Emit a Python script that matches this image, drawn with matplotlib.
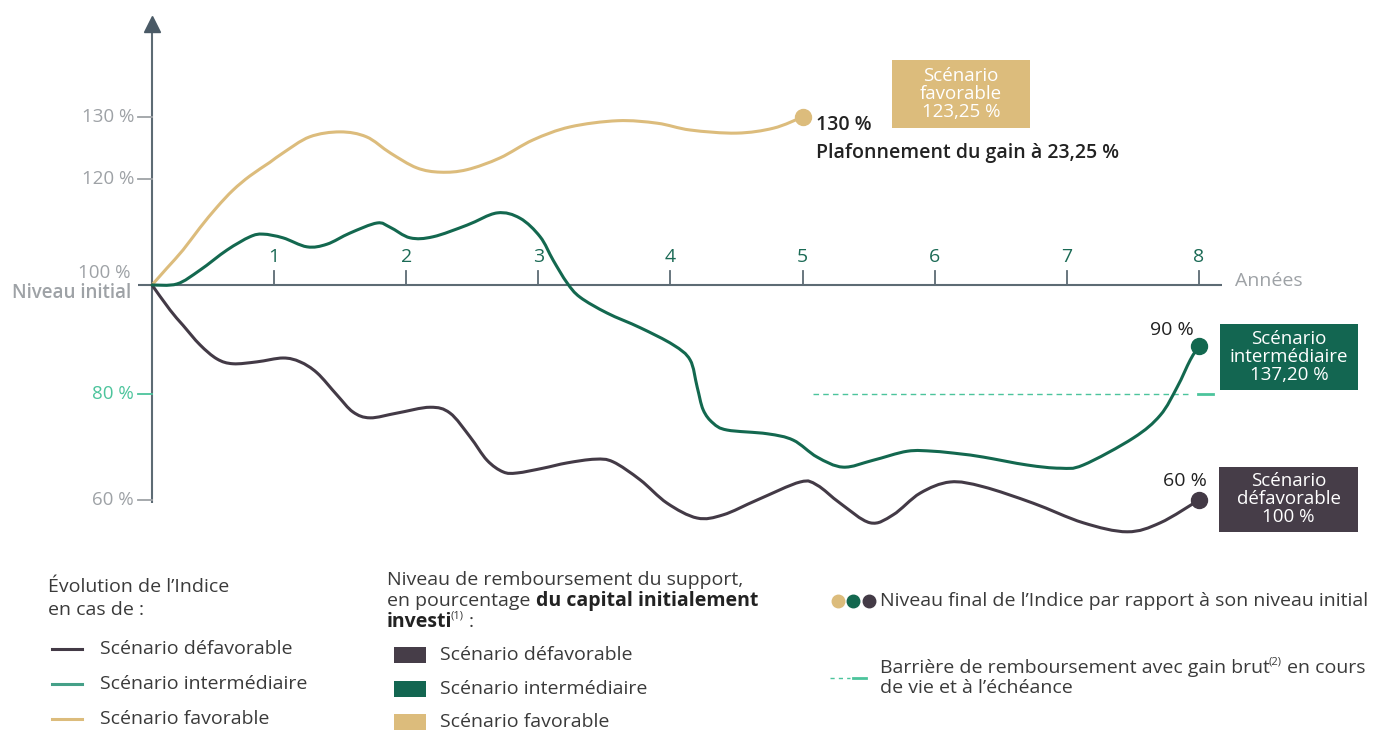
import numpy as np
import matplotlib
matplotlib.use("Agg")
import matplotlib.pyplot as plt
from matplotlib.patches import Rectangle, PathPatch
from matplotlib.lines import Line2D
from matplotlib.path import Path

# ---------------- data ----------------
years_fav = [0, 0.123, 0.254, 0.393, 0.533, 0.664, 0.803, 0.967, 1.068, 1.27, 1.50, 1.70,
             1.88, 2.08, 2.26, 2.46, 2.71, 2.96, 3.24, 3.60, 3.90, 4.15, 4.50, 4.78, 5.0]
val_fav = [100, 103.2, 106.6, 110.8, 114.7, 117.9, 120.5, 122.7, 124.2, 126.8, 127.6, 126.8,
           124.2, 121.8, 121.1, 121.5, 123.4, 126.3, 128.4, 129.4, 129.0, 127.9, 127.4,
           128.2, 130]

years_int = [0, 0.205, 0.393, 0.615, 0.803, 0.910, 1.068, 1.250, 1.401, 1.575, 1.780,
             1.878, 2.030, 2.204, 2.461, 2.688, 2.862, 3.014, 3.112, 3.218, 3.316,
             3.521, 3.771, 4.020, 4.149, 4.202, 4.248, 4.323, 4.429, 4.732,
             4.929, 5.110, 5.307, 5.534, 5.792, 5.989, 6.193, 6.367, 6.700, 6.950,
             7.124, 7.503, 7.707, 7.836, 7.934, 8.0]
val_int = [100, 100.2, 102.8, 106.6, 109.1, 109.6, 108.9, 107.2, 107.7, 109.8, 111.7,
           110.9, 108.9, 109.1, 111.3, 113.6, 112.6, 109.1, 104.7, 100.4, 98.0,
           95.4, 93.0, 90.2, 87.1, 81.5, 77.0, 74.5, 73.2, 72.5,
           71.3, 68.1, 66.2, 67.5, 69.2, 69.2, 68.7, 68.1, 66.6, 66.0,
           66.6, 71.7, 76.0, 81.5, 87.1, 90]

years_def = [0, 0.148, 0.254, 0.393, 0.533, 0.664, 0.861, 1.068, 1.197, 1.326, 1.477,
             1.598, 1.727, 1.931, 2.181, 2.332, 2.484, 2.612, 2.734, 2.840, 3.036,
             3.218, 3.430, 3.566, 3.771, 3.975, 4.202, 4.399, 4.656, 4.982, 5.110,
             5.284, 5.511, 5.685, 5.890, 6.117, 6.367, 6.745, 7.124, 7.457, 7.707, 8.0]
val_def = [100, 95.9, 93.4, 90.2, 87.3, 86.3, 86.7, 87.5, 86.7, 84.4, 79.8,
           76.6, 75.5, 76.4, 77.5, 76.4, 71.9, 67.5, 65.3, 65.1, 66.0,
           67.0, 67.7, 67.2, 63.8, 59.4, 56.6, 57.2, 60.0, 63.4, 62.8,
           59.4, 55.7, 57.2, 61.3, 63.4, 62.5, 59.4, 55.7, 54.0, 55.7, 60]

x_ticks = [1, 2, 3, 4, 5, 6, 7, 8]
y_ticks = [60, 80, 120, 130]
y_tick_labels = ["60 %", "80 %", "120 %", "130 %"]
barrier_level = 80
barrier_start, barrier_end = 5.08, 7.93

final_labels = ["130 %", "90 %", "60 %"]
box_texts = ["Scénario\nfavorable\n123,25 %",
             "Scénario\nintermédiaire\n137,20 %",
             "Scénario\ndéfavorable\n100 %"]
legend_names = ["Scénario défavorable", "Scénario intermédiaire", "Scénario favorable"]

# ---------------- style ----------------
GOLD = "#dcbc7c"
GREEN = "#13684f"
DARK = "#433a46"
TEAL = "#4cc49c"
AXIS = "#5d6b74"
GREY = "#9ea2a6"
TXT = "#3a3a3a"
LEG_GREEN = "#45a088"
FS = 14
plt.rcParams["font.family"] = ["Open Sans", "DejaVu Sans"]

W, H = 1378, 734
fig = plt.figure(figsize=(W / 100, H / 100), dpi=100)
fig.patch.set_facecolor("white")
ax = fig.add_axes([0, 0, 1, 1])

# piecewise-linear scales of the schematic chart
X_Y = [-5, 0, 1, 8, 12]
X_P = [152 - 5 * 122, 152, 274, 1199, 1199 + 4 * 132.1]
Y_V = [0, 60, 80, 90, 100, 120, 130, 200]
Y_P = [234 - 60 * 5.3, 234, 340, 388, 449, 555, 617, 617 + 70 * 6.2]

fx = lambda v: np.interp(v, X_Y, X_P)
ifx = lambda p: np.interp(p, X_P, X_Y)
fy = lambda v: np.interp(v, Y_V, Y_P)
ify = lambda p: np.interp(p, Y_P, Y_V)
ax.set_xscale("function", functions=(fx, ifx))
ax.set_yscale("function", functions=(fy, ify))
ax.set_xlim(float(ifx(0)), float(ifx(W)))
ax.set_ylim(float(ify(0)), float(ify(H)))
ax.axis("off")


def px2x(p):
    return float(ifx(p))


def py2y(p):
    return float(ify(H - p))


def T(x, y, s, **kw):
    kw.setdefault("va", "center")
    kw.setdefault("ha", "left")
    kw.setdefault("fontsize", FS)
    return fig.text(x / W, 1 - y / H, s, **kw)


def smooth_line(xs, ys, color, z):
    """Draw a smooth (Catmull-Rom style) curve through the read points."""
    sx = fx(np.asarray(xs, float))
    sy = fy(np.asarray(ys, float))
    P = np.column_stack([sx, sy])
    n = len(P)
    verts = [P[0]]
    codes = [Path.MOVETO]
    for i in range(n - 1):
        p0 = P[max(i - 1, 0)]
        p1 = P[i]
        p2 = P[i + 1]
        p3 = P[min(i + 2, n - 1)]
        c1 = p1 + (p2 - p0) / 6.0
        c2 = p2 - (p3 - p1) / 6.0
        verts += [c1, c2, p2]
        codes += [Path.CURVE4] * 3
    V = np.array(verts)
    V = np.column_stack([ifx(V[:, 0]), ify(V[:, 1])])
    ax.add_patch(PathPatch(Path(V, codes), facecolor="none", edgecolor=color, lw=2.2,
                           capstyle="round", joinstyle="round", zorder=z))


# axes lines
ax.plot([px2x(138), px2x(1222)], [100, 100], color=AXIS, lw=1.5, solid_capstyle="butt", zorder=2)
ax.plot([0, 0], [py2y(503), py2y(30)], color=AXIS, lw=1.5, solid_capstyle="butt", zorder=2)
ax.plot([0], [py2y(24)], marker="^", ms=11, color="#4a5a66", zorder=3)

for t in x_ticks:
    ax.plot([t, t], [100, py2y(271)], color=AXIS, lw=1.3, zorder=2)
    ax.text(t, py2y(257), str(t), ha="center", va="center", fontsize=14, color="#1b6a55")
for v, lab in zip(y_ticks, y_tick_labels):
    c = TEAL if v == barrier_level else GREY
    ax.plot([px2x(138), 0], [v, v], color=c, lw=1.3, zorder=2)
    ax.text(px2x(134), v, lab, ha="right", va="center", fontsize=13.5, color=c)
ax.text(px2x(131), py2y(273), "100 %", ha="right", va="center", fontsize=13.5, color=GREY)
ax.text(px2x(131), py2y(293), "Niveau initial", ha="right", va="center", fontsize=13.5,
        color=GREY, fontweight="semibold")
ax.text(px2x(1235), py2y(281), "Années", ha="left", va="center", fontsize=14, color=GREY)

# barrier
ax.plot([barrier_start, barrier_end], [barrier_level, barrier_level], color=TEAL, lw=1,
        dashes=(4, 3), zorder=2)
ax.plot([px2x(1198), px2x(1213)], [barrier_level, barrier_level], color=TEAL, lw=2, zorder=2)

# curves
smooth_line(years_fav, val_fav, GOLD, 4)
smooth_line(years_int, val_int, GREEN, 5)
smooth_line(years_def, val_def, DARK, 4)
ax.plot([years_fav[-1]], [val_fav[-1]], "o", ms=11.5, color=GOLD, zorder=6)
ax.plot([years_int[-1]], [val_int[-1]], "o", ms=11.5, color=GREEN, zorder=6)
ax.plot([years_def[-1]], [val_def[-1]], "o", ms=11.5, color=DARK, zorder=6)

# final labels
T(816, 125, final_labels[0], color="#222222", fontweight="semibold")
T(816, 153, "Plafonnement du gain à 23,25 %", color="#222222", fontweight="semibold")
T(1194, 330, final_labels[1], color="#222222", ha="right")
T(1207, 481, final_labels[2], color="#222222", ha="right")

# boxes
for (x0, y0, x1, y1), col, s in zip(
        [(892, 60, 1030, 128), (1220, 324, 1358, 390), (1219, 467, 1358, 532)],
        [GOLD, "#136651", "#463d48"], box_texts):
    fig.add_artist(Rectangle((x0 / W, 1 - y1 / H), (x1 - x0) / W, (y1 - y0) / H,
                             transform=fig.transFigure, facecolor=col, edgecolor="none"))
    T((x0 + x1) / 2, (y0 + y1) / 2, s, ha="center", fontsize=13.5, color="white",
      linespacing=1.0)

# ---------------- legends ----------------
T(48, 587, "Évolution de l’Indice", color=TXT)
T(48, 610, "en cas de :", color=TXT)
for yy, col, name in zip([649, 684, 719], [DARK, LEG_GREEN, GOLD], legend_names):
    fig.add_artist(Line2D([52 / W, 82 / W], [1 - yy / H, 1 - yy / H], color=col, lw=2.2,
                          transform=fig.transFigure))
    T(100, yy, name, color=TXT)

T(387, 580, "Niveau de remboursement du support,", color=TXT)
t1 = T(387, 601, "en pourcentage", color=TXT)
ax.annotate("du capital initialement", xy=(1, 0.5), xycoords=t1, xytext=(4, 0),
            textcoords="offset points", va="center", ha="left",
            fontsize=FS, color="#222222", fontweight="bold", annotation_clip=False)
t2 = T(387, 622, "investi", color="#222222", fontweight="bold")
s2 = ax.annotate("(1)", xy=(1, 0.55), xycoords=t2, xytext=(-1, 0), textcoords="offset points",
                 va="bottom", ha="left", fontsize=8, color=TXT, annotation_clip=False)
ax.annotate(":", xy=(1, 0.5), xycoords=(s2, t2), xytext=(3, 0), textcoords="offset points",
            va="center", ha="left", fontsize=FS, color=TXT, annotation_clip=False)
for (y0, y1), col, name in zip([(647, 663), (681, 697), (714, 730)],
                               ["#463d48", "#136651", GOLD], legend_names):
    fig.add_artist(Rectangle((394 / W, 1 - y1 / H), 32 / W, (y1 - y0) / H,
                             transform=fig.transFigure, facecolor=col, edgecolor="none"))
    T(440, (y0 + y1) / 2, name, color=TXT)

for xx, col in zip([838, 853, 869], [GOLD, GREEN, DARK]):
    fig.add_artist(Line2D([xx / W], [1 - 601 / H], marker="o", ms=9, color=col,
                          transform=fig.transFigure))
T(880, 601, "Niveau final de l’Indice par rapport à son niveau initial", color=TXT)
fig.add_artist(Line2D([830 / W, 850 / W], [1 - 678 / H, 1 - 678 / H], color=TEAL, lw=1,
                      dashes=(3, 3), transform=fig.transFigure))
fig.add_artist(Line2D([853 / W, 866 / W], [1 - 678 / H, 1 - 678 / H], color=TEAL, lw=2,
                      transform=fig.transFigure))
t3 = T(880, 668, "Barrière de remboursement avec gain brut", color=TXT)
s3 = ax.annotate("(2)", xy=(1, 0.55), xycoords=t3, xytext=(-1, 0), textcoords="offset points",
                 va="bottom", ha="left", fontsize=8, color=TXT, annotation_clip=False)
ax.annotate("en cours", xy=(1, 0.5), xycoords=(s3, t3), xytext=(4, 0), textcoords="offset points",
            va="center", ha="left", fontsize=FS, color=TXT, annotation_clip=False)
T(880, 688, "de vie et à l’échéance", color=TXT)

fig.savefig("out.png", dpi=100, facecolor="white")
